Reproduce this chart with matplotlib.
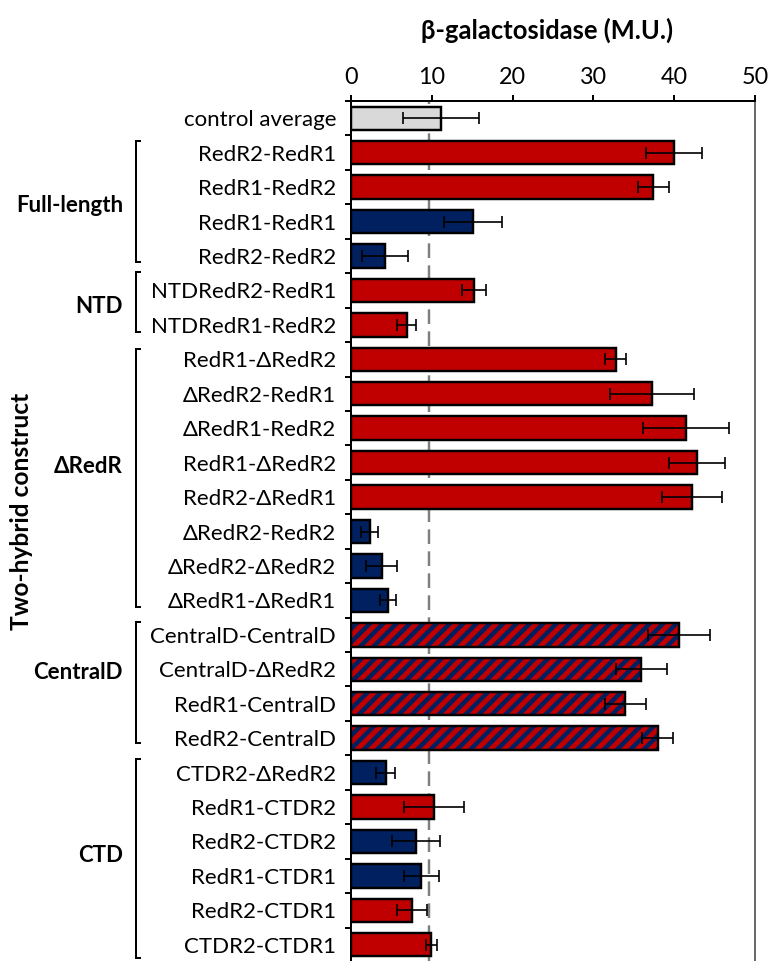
import numpy as np
import matplotlib
matplotlib.use("Agg")
import matplotlib.pyplot as plt
import matplotlib.transforms as mtransforms

plt.rcParams['font.family'] = ['Lato', 'DejaVu Sans']
plt.rcParams['hatch.linewidth'] = 4.5

# ---------------- data ----------------
labels = ["control average",
          "RedR2-RedR1", "RedR1-RedR2", "RedR1-RedR1", "RedR2-RedR2",
          "NTDRedR2-RedR1", "NTDRedR1-RedR2",
          "RedR1-ΔRedR2", "ΔRedR2-RedR1", "ΔRedR1-RedR2", "RedR1-ΔRedR2",
          "RedR2-ΔRedR1", "ΔRedR2-RedR2", "ΔRedR2-ΔRedR2", "ΔRedR1-ΔRedR1",
          "CentralD-CentralD", "CentralD-ΔRedR2", "RedR1-CentralD", "RedR2-CentralD",
          "CTDR2-ΔRedR2", "RedR1-CTDR2", "RedR2-CTDR2", "RedR1-CTDR1",
          "RedR2-CTDR1", "CTDR2-CTDR1"]
values = [11.15,
          40.0, 37.4, 15.1, 4.2,
          15.2, 6.9,
          32.75, 37.25, 41.5, 42.8, 42.25, 2.3, 3.8, 4.6,
          40.55, 35.9, 33.95, 37.95,
          4.3, 10.25, 8.05, 8.7, 7.55, 9.95]
errors = [4.75,
          3.45, 1.9, 3.55, 2.9,
          1.5, 1.2,
          1.3, 5.15, 5.3, 3.5, 3.7, 1.1, 1.9, 1.0,
          3.85, 3.15, 2.5, 1.9,
          1.2, 3.7, 3.0, 2.2, 1.85, 0.7]
# bar type: c = control, r = red, b = blue, h = hatched
kinds = ["c",
         "r", "r", "b", "b",
         "r", "r",
         "r", "r", "r", "r", "r", "b", "b", "b",
         "h", "h", "h", "h",
         "b", "r", "b", "b", "r", "r"]
groups = ["Full-length", "NTD", "ΔRedR", "CentralD", "CTD"]
group_rows = [(1, 4), (5, 6), (7, 14), (15, 18), (19, 24)]
control_line = 9.66
xticks = [0, 10, 20, 30, 40, 50]

# ---------------- style ----------------
RED = "#C00000"
NAVY = "#002060"
GREY = "#D9D9D9"
colors = {"c": GREY, "r": RED, "b": NAVY, "h": NAVY}
FS = 20

fig = plt.figure(figsize=(9.6, 961 / 80), dpi=80)
ax = fig.add_axes([351 / 768, -1 / 961, (755 - 351) / 768, (961 - 101 + 1) / 961])

y = np.arange(len(labels))
vals = np.array(values)
errs = np.array(errors)

ax.axvline(control_line, color="#7F7F7F", lw=2.2, ls=(0, (6, 3)), zorder=0)

for yi, v, k in zip(y, vals, kinds):
    if k == "h":
        ax.barh(yi, v, height=0.68, color=NAVY, edgecolor=RED, hatch="//",
                linewidth=0, zorder=2)
        ax.barh(yi, v, height=0.68, fill=False, edgecolor="black",
                linewidth=2.2, zorder=3)
    else:
        ax.barh(yi, v, height=0.68, color=colors[k], edgecolor="black",
                linewidth=2.2, zorder=2)

ax.errorbar(vals, y, xerr=errs, fmt="none", ecolor="black", elinewidth=1.5,
            capsize=5.5, capthick=1.5, zorder=5)

ax.set_xlim(0, 50)
ax.set_ylim(len(labels) - 0.5, -0.5)

ax.xaxis.tick_top()
ax.set_xticks(xticks)
ax.set_xticklabels([str(t) for t in xticks], fontsize=21)
ax.tick_params(axis="x", direction="out", length=5.5, width=1.8, pad=6, top=True, bottom=False)

ax.set_yticks(y)
ax.set_yticklabels(labels, fontsize=FS)
ax.set_yticks(np.arange(-0.5, len(labels), 1), minor=True)
ax.tick_params(axis="y", which="major", length=0, pad=13.5)
ax.tick_params(axis="y", which="minor", direction="out", length=5.5, width=1.8)

for s in ["top", "left"]:
    ax.spines[s].set_linewidth(1.8)
    ax.spines[s].set_color("black")
ax.spines["right"].set_linewidth(1.4)
ax.spines["right"].set_color("#404040")
ax.spines["bottom"].set_visible(False)

# group brackets and labels
trans = mtransforms.blended_transform_factory(fig.transFigure, ax.transData)
bx = 135.5 / 768
sx = 140 / 768
pads = [(0.34, 0.17), (0.54, 0.22), (0.31, 0.18), (0.37, 0.15), (0.40, 0.39)]
label_rows = [2.52, 5.47, 10.12, 16.08, 21.42]
for g, (a, b), (pt, pb), ly in zip(groups, group_rows, pads, label_rows):
    y0 = a - pt
    y1 = b + pb
    ax.plot([sx, bx, bx, sx], [y0, y0, y1, y1], transform=trans, color="black",
            lw=1.8, clip_on=False, solid_joinstyle="miter")
    ax.text(123 / 768, ly, g, transform=trans, ha="right", va="center",
            fontsize=FS, fontweight="bold")

fig.text(22 / 768, 1 - 511 / 961, "Two-hybrid construct", rotation=90,
         ha="center", va="center", fontsize=22, fontweight="bold")
fig.text(547 / 768, 1 - 30 / 961, "β-galactosidase (M.U.)", ha="center",
         va="center", fontsize=23, fontweight="bold")

fig.savefig("out.png", dpi=80)
